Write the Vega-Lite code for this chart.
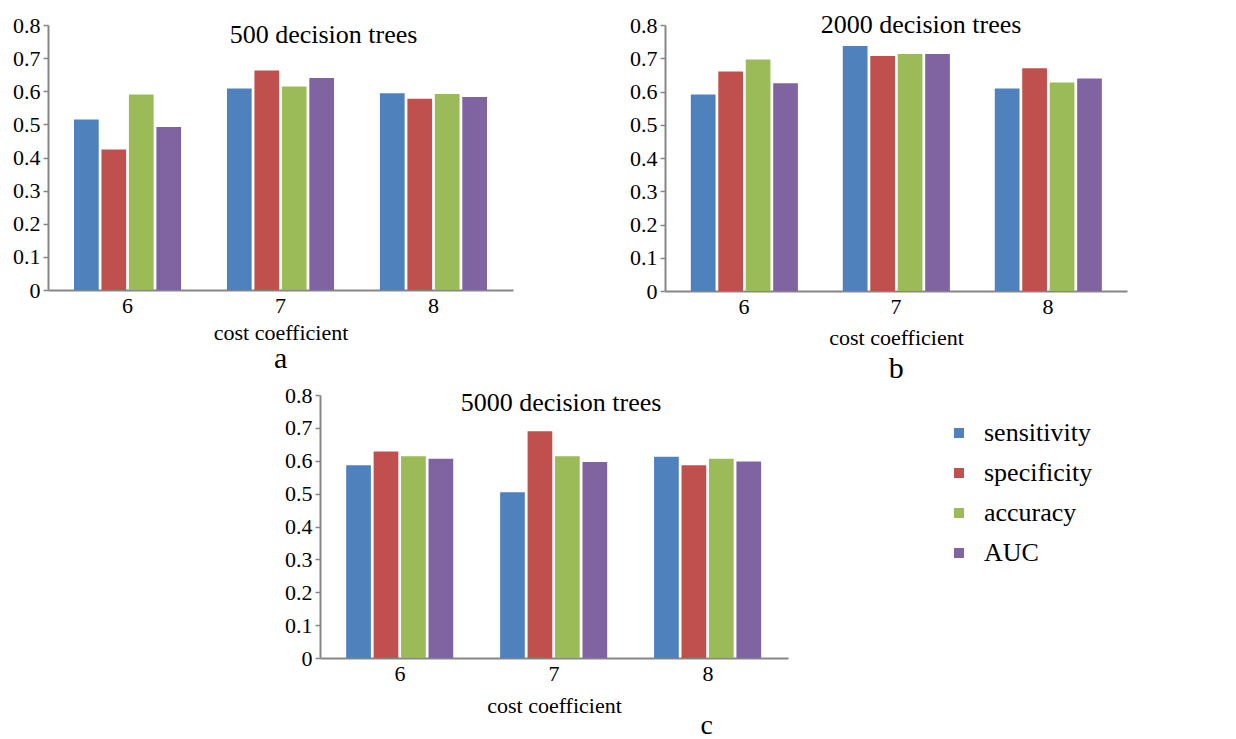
{
  "$schema": "https://vega.github.io/schema/vega-lite/v6.json",
  "padding": {"left": 12, "top": 12, "right": 5, "bottom": 0},
  "background": "white",
  "config": {
    "view": {"stroke": null},
    "font": "Liberation Serif",
    "axis": {"labelFont": "Liberation Serif", "labelFontSize": 22, "labelColor": "black", "titleFont": "Liberation Serif", "titleFontSize": 22, "titleFontWeight": "normal", "titleColor": "black", "domainColor": "#868686", "tickColor": "#868686", "domainWidth": 2, "tickWidth": 1.5, "grid": false},
    "title": {"font": "Liberation Serif", "fontWeight": "normal", "color": "black"},
    "text": {"font": "Liberation Serif", "fontSize": 26, "color": "black"},
    "legend": {"labelFont": "Liberation Serif", "labelColor": "black"}
  },
  "datasets": {
    "t500": [
      {"coef": "6", "metric": "sensitivity", "value": 0.515},
      {"coef": "6", "metric": "specificity", "value": 0.424},
      {"coef": "6", "metric": "accuracy", "value": 0.590},
      {"coef": "6", "metric": "AUC", "value": 0.492},
      {"coef": "7", "metric": "sensitivity", "value": 0.608},
      {"coef": "7", "metric": "specificity", "value": 0.663},
      {"coef": "7", "metric": "accuracy", "value": 0.614},
      {"coef": "7", "metric": "AUC", "value": 0.640},
      {"coef": "8", "metric": "sensitivity", "value": 0.594},
      {"coef": "8", "metric": "specificity", "value": 0.577},
      {"coef": "8", "metric": "accuracy", "value": 0.592},
      {"coef": "8", "metric": "AUC", "value": 0.583}
    ],
    "t2000": [
      {"coef": "6", "metric": "sensitivity", "value": 0.591},
      {"coef": "6", "metric": "specificity", "value": 0.660},
      {"coef": "6", "metric": "accuracy", "value": 0.696},
      {"coef": "6", "metric": "AUC", "value": 0.625},
      {"coef": "7", "metric": "sensitivity", "value": 0.737},
      {"coef": "7", "metric": "specificity", "value": 0.707},
      {"coef": "7", "metric": "accuracy", "value": 0.713},
      {"coef": "7", "metric": "AUC", "value": 0.713},
      {"coef": "8", "metric": "sensitivity", "value": 0.609},
      {"coef": "8", "metric": "specificity", "value": 0.670},
      {"coef": "8", "metric": "accuracy", "value": 0.627},
      {"coef": "8", "metric": "AUC", "value": 0.639}
    ],
    "t5000": [
      {"coef": "6", "metric": "sensitivity", "value": 0.586},
      {"coef": "6", "metric": "specificity", "value": 0.628},
      {"coef": "6", "metric": "accuracy", "value": 0.614},
      {"coef": "6", "metric": "AUC", "value": 0.606},
      {"coef": "7", "metric": "sensitivity", "value": 0.504},
      {"coef": "7", "metric": "specificity", "value": 0.690},
      {"coef": "7", "metric": "accuracy", "value": 0.614},
      {"coef": "7", "metric": "AUC", "value": 0.596},
      {"coef": "8", "metric": "sensitivity", "value": 0.612},
      {"coef": "8", "metric": "specificity", "value": 0.586},
      {"coef": "8", "metric": "accuracy", "value": 0.606},
      {"coef": "8", "metric": "AUC", "value": 0.598}
    ]
  },
  "resolve": {"scale": {"color": "independent"}, "legend": {"color": "independent"}},
  "spacing": 0,
  "vconcat": [
    {
      "resolve": {"scale": {"color": "independent"}, "legend": {"color": "independent"}},
      "spacing": 116,
      "hconcat": [
        {
          "title": {"text": "a", "orient": "bottom", "anchor": "middle", "fontSize": 30, "dx": 18, "offset": 25, "baseline": "alphabetic"},
          "vconcat": [
            {
              "width": 465, "height": 265,
              "layer": [
                {
                  "data": {"name": "t500"},
                  "mark": {"type": "bar"},
                  "encoding": {
                    "x": {"field": "coef", "type": "nominal", "scale": {"paddingInner": 0.3, "paddingOuter": 0.17}, "axis": {"labelAngle": 0, "title": "cost coefficient", "ticks": false, "labelPadding": 5, "titlePadding": 6}},
                    "xOffset": {"field": "metric", "type": "nominal", "sort": ["sensitivity", "specificity", "accuracy", "AUC"], "scale": {"paddingInner": 0.1}},
                    "y": {"field": "value", "type": "quantitative", "scale": {"domain": [0, 0.8], "nice": false}, "axis": {"values": [0, 0.1, 0.2, 0.3, 0.4, 0.5, 0.6, 0.7, 0.8], "format": ".1~f", "title": null, "tickSize": 5, "labelPadding": 3}},
                    "color": {"field": "metric", "type": "nominal", "scale": {"domain": ["sensitivity", "specificity", "accuracy", "AUC"], "range": ["#4F81BD", "#C0504D", "#9BBB59", "#8064A2"]}, "legend": null}
                  }
                },
                {
                  "data": {"values": [{"label": "500 decision trees"}]},
                  "mark": {"type": "text", "baseline": "alphabetic", "align": "center", "dx": 43, "dy": 18},
                  "encoding": {"x": {"datum": "7", "type": "nominal"}, "y": {"datum": 0.8, "type": "quantitative", "axis": {"values": [0, 0.1, 0.2, 0.3, 0.4, 0.5, 0.6, 0.7, 0.8], "format": ".1~f", "title": null, "tickSize": 5, "labelPadding": 3}}, "text": {"field": "label"}}
                }
              ]
            }
          ]
        },
        {
          "title": {"text": "b", "orient": "bottom", "anchor": "middle", "fontSize": 30, "dx": 18, "offset": 30, "baseline": "alphabetic"},
          "vconcat": [
            {
              "width": 462, "height": 266,
              "layer": [
                {
                  "data": {"name": "t2000"},
                  "mark": {"type": "bar"},
                  "encoding": {
                    "x": {"field": "coef", "type": "nominal", "scale": {"paddingInner": 0.3, "paddingOuter": 0.17}, "axis": {"labelAngle": 0, "title": "cost coefficient", "ticks": false, "labelPadding": 5, "titlePadding": 10}},
                    "xOffset": {"field": "metric", "type": "nominal", "sort": ["sensitivity", "specificity", "accuracy", "AUC"], "scale": {"paddingInner": 0.1}},
                    "y": {"field": "value", "type": "quantitative", "scale": {"domain": [0, 0.8], "nice": false}, "axis": {"values": [0, 0.1, 0.2, 0.3, 0.4, 0.5, 0.6, 0.7, 0.8], "format": ".1~f", "title": null, "tickSize": 5, "labelPadding": 3}},
                    "color": {"field": "metric", "type": "nominal", "scale": {"domain": ["sensitivity", "specificity", "accuracy", "AUC"], "range": ["#4F81BD", "#C0504D", "#9BBB59", "#8064A2"]}, "legend": null}
                  }
                },
                {
                  "data": {"values": [{"label": "2000 decision trees"}]},
                  "mark": {"type": "text", "baseline": "alphabetic", "align": "center", "dx": 25, "dy": 8},
                  "encoding": {"x": {"datum": "7", "type": "nominal"}, "y": {"datum": 0.8, "type": "quantitative", "axis": {"values": [0, 0.1, 0.2, 0.3, 0.4, 0.5, 0.6, 0.7, 0.8], "format": ".1~f", "title": null, "tickSize": 5, "labelPadding": 3}}, "text": {"field": "label"}}
                }
              ]
            }
          ]
        }
      ]
    },
    {
      "resolve": {"scale": {"color": "independent"}, "legend": {"color": "independent"}},
      "spacing": 0,
      "hconcat": [
        {"width": 236, "height": 10, "data": {"values": []}, "mark": "point", "encoding": {}},
        {
          "title": {"text": "c", "orient": "bottom", "anchor": "middle", "fontSize": 28, "dx": 18, "offset": 18, "baseline": "alphabetic"},
          "vconcat": [
            {
              "width": 468, "height": 263,
              "layer": [
                {
                  "data": {"name": "t5000"},
                  "mark": {"type": "bar"},
                  "encoding": {
                    "x": {"field": "coef", "type": "nominal", "scale": {"paddingInner": 0.3, "paddingOuter": 0.17}, "axis": {"labelAngle": 0, "title": "cost coefficient", "ticks": false, "labelPadding": 5, "titlePadding": 11}},
                    "xOffset": {"field": "metric", "type": "nominal", "sort": ["sensitivity", "specificity", "accuracy", "AUC"], "scale": {"paddingInner": 0.1}},
                    "y": {"field": "value", "type": "quantitative", "scale": {"domain": [0, 0.8], "nice": false}, "axis": {"values": [0, 0.1, 0.2, 0.3, 0.4, 0.5, 0.6, 0.7, 0.8], "format": ".1~f", "title": null, "tickSize": 5, "labelPadding": 3}},
                    "color": {"field": "metric", "type": "nominal", "scale": {"domain": ["sensitivity", "specificity", "accuracy", "AUC"], "range": ["#4F81BD", "#C0504D", "#9BBB59", "#8064A2"]}, "legend": {"orient": "none", "legendX": 626, "legendY": 25, "title": null, "labelFontSize": 26, "symbolType": "square", "symbolSize": 100, "rowPadding": 14, "labelOffset": 12, "symbolStrokeWidth": 0}}
                  }
                },
                {
                  "data": {"values": [{"label": "5000 decision trees"}]},
                  "mark": {"type": "text", "baseline": "alphabetic", "align": "center", "dx": 7, "dy": 16},
                  "encoding": {"x": {"datum": "7", "type": "nominal"}, "y": {"datum": 0.8, "type": "quantitative", "axis": {"values": [0, 0.1, 0.2, 0.3, 0.4, 0.5, 0.6, 0.7, 0.8], "format": ".1~f", "title": null, "tickSize": 5, "labelPadding": 3}}, "text": {"field": "label"}}
                }
              ]
            }
          ]
        }
      ]
    }
  ]
}
